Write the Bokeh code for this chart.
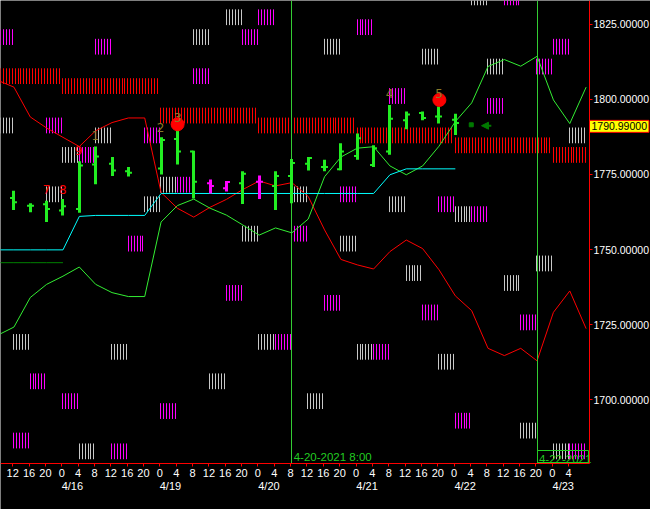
import math
from bokeh.plotting import figure
from bokeh.models import (FixedTicker, PrintfTickFormatter, LinearAxis, Range1d,
                          Label, Arrow, NormalHead)
from bokeh.embed import file_html
from bokeh.resources import INLINE
from bokeh.core.properties import value

FONT = "Liberation Sans"

# ---------------- axes data ----------------
hour_ticks = list(range(-12, 128, 4))
hour_labels = [str(h % 24) for h in hour_ticks]
date_ticks = [2.6, 26.6, 50.7, 74.7, 98.7, 122.7]
date_labels = ["4/16", "4/19", "4/20", "4/21", "4/22", "4/23"]
price_ticks = [1700, 1725, 1750, 1775, 1800, 1825]

# ---------------- OHLC bars (4h) ----------------
bar_hours = [-12, -8, -4, 0, 4, 8, 12, 16, 24, 28, 32, 36, 40, 44, 48, 52, 56, 60,
             64, 68, 72, 76, 80, 84, 88, 92, 96]
bar_open = [1767.12, 1764.57, 1765.06, 1763.0, 1763.52, 1778.26, 1778.58, 1776.09,
            1776.95, 1786.77, 1782.64, 1772.03, 1770.4, 1772.03, 1772.59, 1771.18,
            1774.46, 1778.58, 1777.5, 1776.75, 1781.1, 1778.16, 1782.64, 1792.99,
            1795.42, 1794.3, 1793.22]
bar_high = [1769.54, 1765.39, 1766.27, 1766.79, 1779.37, 1784.28, 1780.78, 1777.5,
            1787.33, 1789.72, 1782.84, 1773.34, 1772.82, 1776.09, 1774.65, 1776.09,
            1780.12, 1780.78, 1779.89, 1785.36, 1788.64, 1784.71, 1798.13, 1795.94,
            1795.94, 1797.58, 1795.19]
bar_low = [1763.19, 1762.44, 1759.16, 1761.36, 1762.21, 1771.71, 1774.46, 1774.33,
           1774.98, 1778.26, 1767.02, 1768.66, 1769.32, 1765.16, 1766.79, 1763.19,
           1765.39, 1776.29, 1776.09, 1776.42, 1779.89, 1777.5, 1781.53, 1790.04,
           1792.99, 1791.91, 1788.08]
bar_close = [1765.71, 1764.57, 1763.52, 1764.4, 1778.0, 1781.0, 1776.29, 1775.54,
             1786.44, 1782.64, 1772.59, 1771.18, 1772.49, 1775.21, 1772.59, 1774.46,
             1778.81, 1780.45, 1777.5, 1782.64, 1787.0, 1783.72, 1793.55, 1794.96,
             1793.78, 1794.3, 1792.14]
bar_kind = ["g"] * 11 + ["m", "m", "g", "m"] + ["g"] * 12

# ---------------- indicator lines (4h samples) ----------------
line_hours = list(range(-16, 132, 4))
red_line = [1806.32, 1804.03, 1794.11, 1790.44, 1787.33, 1784.28, 1789.52, 1792.24,
            1793.78, 1793.78, 1768.99, 1763.75, 1760.80, 1764.08, 1766.70, 1769.97,
            1772.82, 1771.18, 1772.26, 1767.68, 1756.54, 1746.72, 1744.92, 1743.54,
            1749.34, 1753.17, 1750.32, 1743.28, 1734.60, 1729.69, 1717.15, 1714.73,
            1717.15, 1712.99, 1729.13, 1736.24, 1723.70]
green_line = [1721.50, 1724.22, 1734.05, 1738.43, 1741.15, 1744.20, 1738.43, 1735.68,
              1734.37, 1734.37, 1759.16, 1764.63, 1766.79, 1763.75, 1761.46, 1758.18,
              1754.81, 1757.20, 1755.56, 1760.15, 1774.23, 1780.78, 1783.72, 1784.22,
              1777.83, 1774.88, 1777.83, 1784.38, 1792.57, 1798.79, 1810.91, 1813.20,
              1811.0, 1814.28, 1799.77, 1791.91, 1804.03]
cyan_line = [1749.90, 1749.90, 1749.90, 1749.90, 1749.90, 1761.03, 1761.36, 1761.36,
             1761.36, 1761.36, 1768.66, 1768.66, 1768.66, 1768.66, 1768.66, 1768.66,
             1768.66, 1768.66, 1768.66, 1768.66, 1768.66, 1768.66, 1768.66, 1768.66,
             1774.88, 1776.85, 1776.85, 1776.85, 1776.85]
dkgreen_hours = [-16, -12, -8, -4, 0]
dkgreen_line = [1745.64, 1745.64, 1745.64, 1745.64, 1745.64]

# ---------------- daily red zones ----------------
band_days = [-1, 0, 1, 2, 3, 4, 5]
band_tops = [1810.3, 1807.0, 1797.2, 1793.9, 1790.6, 1787.3, 1784.1]

# ---------------- small zone blocks (4h cells) ----------------
gray_cells = [8, 10, 16, 25, 22, 26, 31, -4, 2, 0, -1, 5, 6, 14, 11, 17, 20, 12, 18,
              9, 15, 24, 21, 23, 27, 28, 29, 30, -3, 3, 1]
gray_tops = [1823.3, 1829.9, 1820.1, 1836.5, 1816.8, 1813.5, 1790.6, 1793.9, 1790.6,
             1784.1, 1771.0, 1767.7, 1774.2, 1771.0, 1757.9, 1754.6, 1767.7, 1721.9,
             1718.6, 1708.8, 1702.2, 1764.4, 1744.8, 1715.3, 1741.5, 1692.4, 1748.0,
             1685.5, 1721.9, 1718.6, 1685.5]
mag_cells = [-4, 2, 12, 11, 27, 18, 30, 29, 20, 26, -1, 5, 1, 7, 8, 17, 14, 10, 16,
             13, 19, 23, 25, 22, 24, 28, 31, 4, -2, 0, 6, -3, 3]
mag_tops = [1823.3, 1820.1, 1829.9, 1823.3, 1836.5, 1826.6, 1820.1, 1813.5, 1803.7,
            1800.4, 1793.9, 1790.6, 1784.1, 1774.2, 1810.3, 1771.0, 1757.9, 1738.2,
            1734.9, 1721.9, 1718.6, 1767.7, 1764.4, 1731.7, 1695.7, 1728.4, 1685.5,
            1754.6, 1708.8, 1702.2, 1698.9, 1689.1, 1685.5]

# ---------------- signals / annotations ----------------
signal_hours = [28.35, 92.4]
signal_prices = [1791.68, 1799.77]
num_texts = ["1", "2", "3", "4", "5"]
num_hours = [8.2, 24.2, 28.4, 80.2, 92.3]
num_prices = [1787.88, 1790.77, 1793.88, 1801.9, 1801.9]
red_texts = ["7", "8", "9"]
red_hours = [-3.7, 0.24, 4.1]
red_prices = [1769.97, 1770.13, 1783.07]
vline_hours = [56.3, 116.3]
vline_texts = ["4-20-2021 8:00", "4-22-2021"]
last_price = 1790.99
arrow_hours = [105.1, 102.7]
arrow_price = 1791.2
mark_hour = [100.2]
mark_price = [1791.5]

# ---------------- figure ----------------
W, H = 650, 509
X0, X1 = -14.985, 144.05          # whole canvas width
Y0, Y1 = 1663.54, 1832.85         # whole canvas height
SX = W / (X1 - X0)
SY = H / (Y1 - Y0)


def snap_h(h):
    """move an x position onto a whole screen pixel (crisp 1px lines)"""
    px = (h - X0) * SX
    return X0 + round(px) / SX


def snap_v(v):
    py = (Y1 - v) * SY
    return Y1 - round(py) / SY


AX_X = snap_h(129.06)             # price axis position
AX_Y = snap_v(1678.94)            # time axis position

p = figure(width=W, height=H, output_backend="svg", toolbar_location=None,
           x_range=Range1d(X0, X1), y_range=Range1d(Y0, Y1),
           x_axis_location=None, y_axis_location=None,
           min_border_left=0, min_border_top=0, min_border_right=0,
           min_border_bottom=0)
p.background_fill_color = "black"
p.border_fill_color = "black"
p.outline_line_color = None
p.grid.visible = False

RED = "#ff0000"
MAG = "#ff00ff"
GRAY = "#c8c8c8"
GREEN = "#22ee22"
OLIVE = "#8a7a2a"

HSTEP = 0.725
BLK_H = 5.24


def hatch(starts, tops, n_lines):
    xs, y0, y1 = [], [], []
    for s, t in zip(starts, tops):
        for j in range(n_lines):
            x = s + 0.25 + HSTEP * j
            if x < AX_X - 0.4:
                xs.append(snap_h(x))
                y0.append(t)
                y1.append(t - BLK_H)
    return xs, y0, y1


bx, by0, by1 = hatch([24 * d for d in band_days], band_tops, 33)
p.segment(x0=bx, x1=bx, y0=by0, y1=by1, line_color=RED, line_width=1)
gx, gy0, gy1 = hatch([4 * c for c in gray_cells], gray_tops, 6)
p.segment(x0=gx, x1=gx, y0=gy0, y1=gy1, line_color=GRAY, line_width=1)
mx, my0, my1 = hatch([4 * c for c in mag_cells], mag_tops, 6)
p.segment(x0=mx, x1=mx, y0=my0, y1=my1, line_color=MAG, line_width=1)

# lines
lx = [h + 0.3 for h in line_hours]
p.line(lx, red_line, line_color=RED, line_width=1)
p.line(lx, green_line, line_color="#33ee33", line_width=1)
p.line(lx[:len(cyan_line)], cyan_line, line_color="#00ffff", line_width=1)
p.line([h + 0.3 for h in dkgreen_hours], dkgreen_line, line_color="#008000", line_width=1)

# vertical marker lines
vx = [snap_h(h) for h in vline_hours]
p.segment(x0=vx, x1=vx, y0=[AX_Y] * 2, y1=[Y1] * 2,
          line_color="#33cc33", line_width=1)

# OHLC bars
cx = [snap_h(h + 0.3) for h in bar_hours]
ccol = [GREEN if k == "g" else MAG for k in bar_kind]
p.segment(x0=cx, x1=cx, y0=bar_low, y1=bar_high, line_color=ccol, line_width=3)
p.segment(x0=[x - 0.85 for x in cx], x1=cx, y0=bar_open, y1=bar_open,
          line_color=ccol, line_width=2)
p.segment(x0=cx, x1=[x + 0.85 for x in cx], y0=bar_close, y1=bar_close,
          line_color=ccol, line_width=2)

# signal circles
p.scatter(signal_hours, signal_prices, marker="circle", size=13,
          fill_color=RED, line_color=RED)

p.text(num_hours, num_prices, text=num_texts, text_color=OLIVE,
       text_font=value("DejaVu Sans"), text_font_size="12px",
       text_align="center", text_baseline="middle")
p.text(red_hours, red_prices, text=red_texts, text_color=RED,
       text_font=value("DejaVu Sans"), text_font_size="12px",
       text_align="center", text_baseline="middle")

# small arrow
p.add_layout(Arrow(end=NormalHead(size=7, fill_color="#007a00", line_color="#007a00"),
                   x_start=arrow_hours[0], y_start=arrow_price,
                   x_end=arrow_hours[1], y_end=arrow_price,
                   line_color="#007a00", line_width=2))
p.scatter(mark_hour, mark_price, marker="square", size=4,
          fill_color="#007a00", line_color="#007a00")

# vertical line labels
p.text([vline_hours[0] + 0.45], [AX_Y + 0.3], text=[vline_texts[0]], text_color="#22cc22",
       text_font=value(FONT), text_font_size="11.5px", text_align="left",
       text_baseline="bottom")
p.text([vline_hours[1] + 0.45], [AX_Y + 0.3], text=[vline_texts[1]], text_color="#22cc22",
       text_font=value(FONT), text_font_size="11.5px", text_align="left",
       text_baseline="bottom")
p.quad(left=[vx[1]], right=[snap_h(128.82)], bottom=[AX_Y + 0.33], top=[snap_v(1683.19)],
       fill_color=None, line_color="#22cc22", line_width=1)

# axis lines (red frame edges)
p.segment(x0=[X0, AX_X], x1=[AX_X, AX_X], y0=[AX_Y, AX_Y], y1=[AX_Y, Y1],
          line_color=RED, line_width=1)

# ---------------- axes ----------------
yax = LinearAxis(fixed_location=AX_X, ticker=FixedTicker(ticks=price_ticks),
                 formatter=PrintfTickFormatter(format="%.5f"))
yax.axis_line_color = None
yax.major_tick_line_color = RED
yax.major_tick_in = 0
yax.major_tick_out = 3
yax.minor_tick_line_color = None
yax.major_label_text_color = "white"
yax.major_label_text_font = FONT
yax.major_label_text_font_size = "10.5px"
yax.major_label_standoff = 1
p.add_layout(yax, "right")

xax = LinearAxis(fixed_location=AX_Y, ticker=FixedTicker(ticks=hour_ticks),
                 major_label_overrides={t: l for t, l in zip(hour_ticks, hour_labels)})
xax.axis_line_color = None
xax.major_tick_line_color = RED
xax.major_tick_in = 0
xax.major_tick_out = 3
xax.minor_tick_line_color = None
xax.major_label_text_color = "white"
xax.major_label_text_font = FONT
xax.major_label_text_font_size = "11px"
xax.major_label_standoff = 2
p.add_layout(xax, "below")

dax = LinearAxis(fixed_location=AX_Y, ticker=FixedTicker(ticks=date_ticks),
                 major_label_overrides={t: l for t, l in zip(date_ticks, date_labels)})
dax.axis_line_color = None
dax.major_tick_line_color = None
dax.major_tick_out = 0
dax.major_tick_in = 0
dax.minor_tick_line_color = None
dax.major_label_text_color = "white"
dax.major_label_text_font = FONT
dax.major_label_text_font_size = "11px"
dax.major_label_standoff = 16
p.add_layout(dax, "below")

# last price tag
p.add_layout(Label(x=AX_X, y=last_price, text=f"{last_price:.5f}",
                   text_color="black", text_font=FONT, text_font_size="10.5px",
                   text_align="left", text_baseline="middle",
                   background_fill_color="#ffff00", border_line_color=RED,
                   border_line_width=1, padding=2))

open("out.html", "w").write(file_html(p, INLINE))
